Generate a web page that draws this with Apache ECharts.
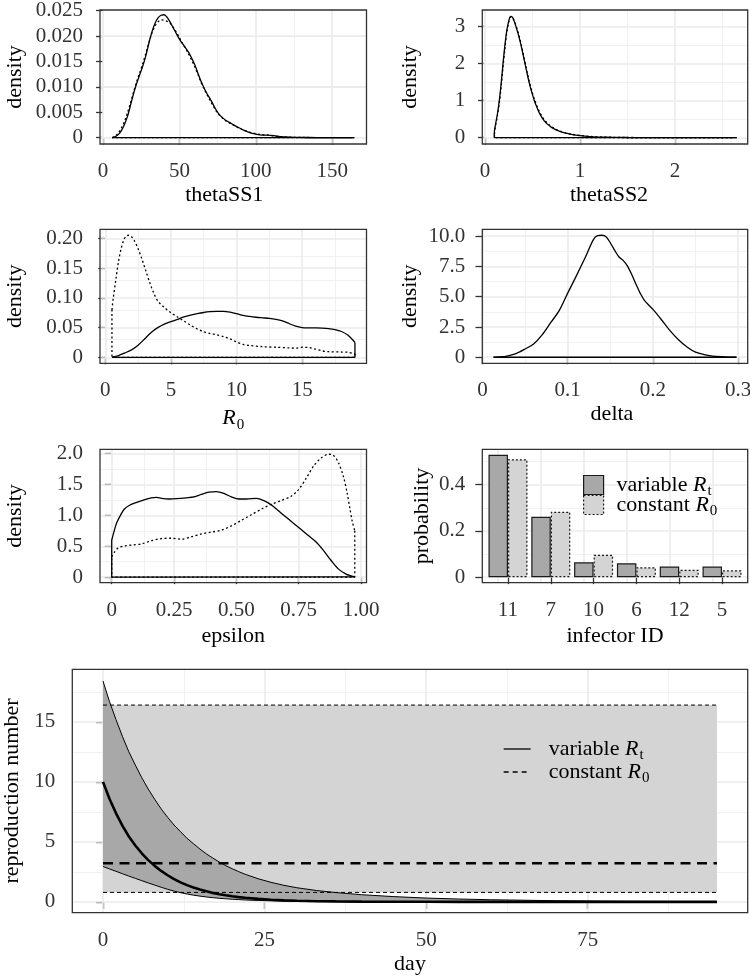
<!DOCTYPE html>
<html><head><meta charset="utf-8">
<script src="https://cdn.jsdelivr.net/npm/echarts@6/dist/echarts.min.js"></script>
<style>html,body{margin:0;padding:0;background:#fff}#c{width:750px;height:978px}</style>
</head><body><div id="c"></div>
<script>
// ---------------- DATA ----------------
// density curves: [x, density]; "Var" = variable Rt model (solid), "Const" = constant R0 model (dotted)
const theta1Var = [[5.9,0],[8,0.0002],[10,0.0006],[12,0.0014],[14,0.0026],[16,0.0042],[18,0.0064],[20,0.0087],[22,0.0107],[24,0.0124],[26,0.0141],[28,0.0161],[30,0.0186],[32,0.0208],[34,0.0225],[36,0.0236],[38,0.0241],[40,0.0242],[42,0.0237],[44,0.0227],[46,0.0216],[48,0.0205],[50,0.0194],[52,0.0185],[54,0.0177],[56,0.0168],[58,0.0157],[60,0.0144],[62,0.0128],[64,0.0112],[66,0.0099],[68,0.0087],[70,0.0077],[72,0.0066],[74,0.0055],[76,0.0046],[78,0.0040],[80,0.0035],[84,0.0028],[88,0.0021],[92,0.0015],[96,0.0010],[100,0.0007],[104,0.0005],[108,0.0005],[112,0.0004],[116,0.0002],[122,0.0001],[130,0.00006],[140,0.00003],[150,0.00002],[164.5,0]];
const theta1Const = [[6,0],[8,0.0003],[10,0.0009],[12,0.0019],[14,0.0032],[16,0.0049],[18,0.0069],[20,0.0090],[22,0.0110],[24,0.0128],[26,0.0146],[28,0.0166],[30,0.0187],[32,0.0206],[34,0.0220],[36,0.0228],[38,0.0232],[40,0.0231],[42,0.0229],[44,0.0225],[46,0.0217],[48,0.0208],[50,0.0197],[52,0.0186],[54,0.0176],[56,0.0165],[58,0.0153],[60,0.0140],[62,0.0126],[64,0.0110],[66,0.0097],[68,0.0085],[70,0.0074],[72,0.0063],[74,0.0053],[76,0.0045],[78,0.0039],[80,0.0034],[84,0.0027],[88,0.0020],[92,0.0015],[96,0.0011],[100,0.0008],[104,0.0006],[108,0.0005],[112,0.0003],[116,0.0002],[122,0.0001],[130,0.00005],[140,0.00002],[155,0.00001],[163,0]];
const theta2Var = [[0.098,0.15],[0.11,0.35],[0.13,0.62],[0.15,0.98],[0.17,1.45],[0.19,2.0],[0.21,2.5],[0.23,2.9],[0.25,3.15],[0.27,3.28],[0.29,3.25],[0.31,3.13],[0.33,2.97],[0.35,2.8],[0.37,2.6],[0.39,2.38],[0.41,2.14],[0.43,1.9],[0.45,1.66],[0.47,1.44],[0.49,1.25],[0.52,1.0],[0.55,0.8],[0.58,0.63],[0.62,0.47],[0.66,0.36],[0.70,0.28],[0.75,0.21],[0.80,0.16],[0.86,0.12],[0.92,0.085],[1.0,0.055],[1.1,0.03],[1.2,0.018],[1.35,0.01],[1.5,0.006],[1.8,0.003],[2.2,0.001],[2.65,0]];
const theta2Const = [[0.1,0.1],[0.11,0.3],[0.13,0.58],[0.15,0.92],[0.17,1.38],[0.19,1.9],[0.21,2.42],[0.23,2.85],[0.25,3.12],[0.27,3.26],[0.29,3.24],[0.31,3.15],[0.33,3.0],[0.35,2.84],[0.37,2.64],[0.39,2.42],[0.41,2.18],[0.43,1.94],[0.45,1.7],[0.47,1.48],[0.49,1.29],[0.52,1.04],[0.55,0.84],[0.58,0.67],[0.62,0.5],[0.66,0.39],[0.70,0.3],[0.75,0.22],[0.80,0.17],[0.86,0.12],[0.92,0.09],[1.0,0.06],[1.1,0.035],[1.2,0.02],[1.35,0.011],[1.5,0.006],[1.8,0.003],[2.2,0.001],[2.6,0]];
const r0Var = [[0.51,0.0005],[1.0,0.003],[1.5,0.0075],[2.0,0.0125],[2.5,0.0205],[3.0,0.031],[3.5,0.042],[4.0,0.050],[4.5,0.056],[5.0,0.060],[5.5,0.064],[6.0,0.068],[6.5,0.071],[7.0,0.0735],[7.5,0.0755],[8.0,0.0768],[8.5,0.0775],[9.0,0.0775],[9.5,0.0762],[10.0,0.0735],[10.5,0.0705],[11.0,0.0688],[11.5,0.0675],[12.0,0.0665],[12.5,0.0655],[13.0,0.0638],[13.5,0.0612],[14.0,0.057],[14.5,0.0525],[15.0,0.0502],[15.5,0.0497],[16.0,0.0495],[16.5,0.0492],[17.0,0.0485],[17.5,0.0468],[18.0,0.0435],[18.5,0.037],[19.02,0.025]];
const r0Const = [[0.51,0.08],[0.6,0.098],[0.8,0.13],[1.0,0.16],[1.2,0.182],[1.4,0.197],[1.6,0.204],[1.8,0.2055],[2.0,0.203],[2.2,0.197],[2.5,0.183],[2.8,0.165],[3.1,0.145],[3.4,0.125],[3.7,0.108],[4.0,0.095],[4.5,0.084],[5.0,0.075],[5.5,0.068],[6.0,0.061],[6.5,0.054],[7.0,0.048],[7.5,0.043],[8.0,0.040],[8.5,0.038],[9.0,0.035],[9.5,0.031],[10.0,0.026],[10.5,0.022],[11.0,0.020],[12.0,0.018],[13.0,0.017],[14.0,0.016],[14.5,0.0155],[15.0,0.017],[15.5,0.0165],[16.0,0.014],[16.5,0.011],[17.0,0.0095],[18.0,0.009],[18.5,0.0085],[19.02,0.006]];
const deltaVar = [[0.013,0],[0.02,0.02],[0.03,0.12],[0.04,0.32],[0.05,0.68],[0.06,1.1],[0.07,1.85],[0.08,2.85],[0.09,3.85],[0.10,5.3],[0.11,6.7],[0.12,8.15],[0.13,9.7],[0.135,10.05],[0.14,10.08],[0.145,9.95],[0.15,9.45],[0.155,8.85],[0.16,8.3],[0.165,8.0],[0.17,7.55],[0.175,6.85],[0.18,6.05],[0.185,5.3],[0.19,4.7],[0.20,3.95],[0.21,3.1],[0.22,2.2],[0.23,1.45],[0.24,0.85],[0.25,0.42],[0.26,0.22],[0.27,0.1],[0.28,0.04],[0.29,0.01],[0.298,0]];
const epsVar = [[0,0.6],[0.01,0.75],[0.02,0.88],[0.035,1.0],[0.05,1.1],[0.07,1.16],[0.1,1.21],[0.13,1.25],[0.16,1.285],[0.18,1.29],[0.2,1.275],[0.23,1.265],[0.26,1.27],[0.3,1.285],[0.33,1.3],[0.36,1.34],[0.39,1.375],[0.42,1.385],[0.45,1.355],[0.48,1.3],[0.51,1.265],[0.54,1.265],[0.58,1.275],[0.61,1.24],[0.64,1.17],[0.67,1.07],[0.7,0.97],[0.73,0.87],[0.76,0.77],[0.79,0.67],[0.82,0.57],[0.85,0.43],[0.88,0.27],[0.91,0.13],[0.94,0.05],[0.975,0.005]];
const epsConst = [[0,0.33],[0.01,0.4],[0.025,0.47],[0.05,0.505],[0.08,0.52],[0.12,0.54],[0.16,0.59],[0.2,0.625],[0.24,0.63],[0.28,0.615],[0.32,0.655],[0.36,0.7],[0.4,0.73],[0.44,0.76],[0.48,0.83],[0.52,0.92],[0.56,1.01],[0.6,1.1],[0.64,1.18],[0.68,1.24],[0.72,1.31],[0.75,1.42],[0.78,1.6],[0.81,1.8],[0.84,1.93],[0.87,1.99],[0.89,1.97],[0.91,1.85],[0.93,1.62],[0.945,1.35],[0.955,1.12],[0.965,0.9],[0.975,0.75]];

// infector probabilities
const infectorIds = ['11','7','10','6','12','5'];
const probVar   = [0.529,0.261,0.064,0.060,0.046,0.046];
const probConst = [0.510,0.283,0.097,0.043,0.032,0.030];

// reproduction number over time
const days     = [0,1,2,3,4,5,6,7,8,9,10,11,12,13,14,15,16,17,18,19,20,21,22,24,26,28,30,33,36,40,45,50,55,60,70,80,95];
const rtUpper  = [18.4,16.7,15.2,13.8,12.5,11.4,10.35,9.4,8.55,7.75,7.05,6.4,5.85,5.3,4.85,4.4,4.0,3.65,3.32,3.02,2.76,2.52,2.3,1.93,1.63,1.38,1.18,0.95,0.78,0.6,0.44,0.32,0.24,0.18,0.1,0.05,0.02];
const rtMedian = [10.0,8.6,7.4,6.35,5.45,4.7,4.05,3.48,3.0,2.58,2.22,1.9,1.63,1.4,1.2,1.03,0.88,0.75,0.64,0.55,0.47,0.4,0.34,0.25,0.18,0.13,0.09,0.06,0.04,0.025,0.014,0.008,0.005,0.003,0.001,0,0];
const rtLower  = [2.95,2.75,2.55,2.35,2.15,1.96,1.77,1.58,1.4,1.22,1.05,0.9,0.77,0.66,0.56,0.48,0.41,0.35,0.3,0.26,0.22,0.19,0.16,0.12,0.09,0.065,0.05,0.035,0.025,0.015,0.009,0.005,0.003,0.002,0.001,0,0];
const constDays   = [0,95];
const constUpper  = [16.4,16.4];
const constMedian = [3.22,3.22];
const constLower  = [0.79,0.79];

// tick values and labels
const t1xTicks=[0,50,100,150], t1xLabels=['0','50','100','150'];
const t1yTicks=[0,0.005,0.01,0.015,0.02,0.025], t1yLabels=['0','0.005','0.010','0.015','0.020','0.025'];
const t2xTicks=[0,1,2], t2xLabels=['0','1','2'];
const t2yTicks=[0,1,2,3], t2yLabels=['0','1','2','3'];
const r0xTicks=[0,5,10,15], r0xLabels=['0','5','10','15'];
const r0yTicks=[0,0.05,0.1,0.15,0.2], r0yLabels=['0','0.05','0.10','0.15','0.20'];
const dxTicks=[0,0.1,0.2,0.3], dxLabels=['0','0.1','0.2','0.3'];
const dyTicks=[0,2.5,5,7.5,10], dyLabels=['0','2.5','5.0','7.5','10.0'];
const exTicks=[0,0.25,0.5,0.75,1], exLabels=['0','0.25','0.50','0.75','1.00'];
const eyTicks=[0,0.5,1,1.5,2], eyLabels=['0','0.5','1.0','1.5','2.0'];
const pyTicks=[0,0.2,0.4], pyLabels=['0','0.2','0.4'];
const rxTicks=[0,25,50,75], rxLabels=['0','25','50','75'];
const ryTicks=[0,5,10,15], ryLabels=['0','5','10','15'];

// ---------------- BUILD ----------------
const FONT = 'Liberation Serif';
const TICKC = '#333333';
const BORDER = '#333333';
const RICH = {
  n:{fontSize:22,fontFamily:FONT,color:'#000'},
  i:{fontSize:22,fontFamily:FONT,fontStyle:'italic',color:'#000'},
  s:{fontSize:15,fontFamily:FONT,color:'#000',padding:[14,0,0,1]}
};
function lab(ticks, labels){
  return function(v){ for(let i=0;i<ticks.length;i++){ if(Math.abs(ticks[i]-v)<1e-9) return labels[i]; } return ''; };
}
function mids(t){ const m=[]; for(let i=0;i<t.length-1;i++) m.push((t[i]+t[i+1])/2); return m; }
function axis(isY, gi, min, max, ticks, labels, name, gap, shift){
  const nts = {fontSize:22, color:'#000', fontFamily:FONT, rich:RICH};
  if (shift) nts.padding = [0, 2*shift, 0, 0];
  const a = {
    type:'value', gridIndex:gi, min:min, max:max,
    axisLine:{show:false},
    axisTick:{show:true, customValues:ticks, length:7, lineStyle:{color:BORDER,width:1.3}},
    axisLabel:{show:true, customValues:ticks, formatter:lab(ticks,labels), margin:17, color:TICKC, fontSize:21, fontFamily:FONT},
    splitLine:{show:false}, minorTick:{show:false}, minorSplitLine:{show:false},
    name:name, nameLocation:'middle', nameGap:gap, nameTextStyle:nts
  };
  if (isY) a.nameRotate = 90;
  return a;
}
function gridLines(xMaj, xMin, yMaj, yMin){
  const maj = {color:'#ebebeb', width:1.6, type:'solid'};
  const mnr = {color:'#ededed', width:0.8, type:'solid'};
  const d = [];
  xMin.forEach(v=>d.push({xAxis:v, lineStyle:mnr}));
  yMin.forEach(v=>d.push({yAxis:v, lineStyle:mnr}));
  xMaj.forEach(v=>d.push({xAxis:v, lineStyle:maj}));
  yMaj.forEach(v=>d.push({yAxis:v, lineStyle:maj}));
  return {silent:true, symbol:['none','none'], label:{show:false}, z:1, animation:false, emphasis:{disabled:true}, data:d};
}
function closure(p){ const f=p[0], l=p[p.length-1]; return [[l[0],l[1]],[l[0],0],[f[0],0],[f[0],f[1]]]; }
function dens(gi, pts, dotted, ml){
  const ls = {color:'#000', width:1.3, type: dotted ? [2,2.5] : 'solid'};
  const base = {type:'line', xAxisIndex:gi, yAxisIndex:gi, symbol:'none', silent:true, animation:false, z: dotted?2:3, emphasis:{disabled:true}};
  const s1 = Object.assign({}, base, {data:pts, smooth:0.3, lineStyle:ls});
  if (ml) s1.markLine = ml;
  const s2 = Object.assign({}, base, {data:closure(pts), smooth:false, lineStyle:ls});
  return [s1, s2];
}
function ribbon(gi, xs, lo, hi, color, z){
  return {type:'custom', xAxisIndex:gi, yAxisIndex:gi, silent:true, animation:false, z:z, clip:true,
    data:[[xs[0], lo[0]]],
    renderItem:function(params, api){
      const pts = [];
      for (let i=0;i<xs.length;i++) pts.push(api.coord([xs[i], hi[i]]));
      for (let i=xs.length-1;i>=0;i--) pts.push(api.coord([xs[i], lo[i]]));
      return {type:'polygon', shape:{points:pts}, style:{fill:color, stroke:null}};
    }};
}
const gridBase = {show:true, borderColor:BORDER, borderWidth:1.3, backgroundColor:'transparent', z:4, containLabel:false, outerBoundsMode:'none'};
const grids = [
  Object.assign({left:100,  top:10,    width:266.5, height:134}, gridBase),
  Object.assign({left:482.3,top:10,    width:265.4, height:134}, gridBase),
  Object.assign({left:100,  top:229.3, width:266.5, height:134}, gridBase),
  Object.assign({left:482.3,top:229.3, width:265.4, height:134}, gridBase),
  Object.assign({left:100,  top:449.3, width:266.5, height:133.4}, gridBase),
  Object.assign({left:482.3,top:449.3, width:265.4, height:133.4}, gridBase),
  Object.assign({left:72.3, top:669.3, width:675.4, height:243.4}, gridBase)
];
const barPos = infectorIds.map((_,i)=>i+1);
const xAxes = [
  axis(false,0,-2,172.5,t1xTicks,t1xLabels,'thetaSS1',40,9),
  axis(false,1,-0.028,2.765,t2xTicks,t2xLabels,'thetaSS2',40,6),
  axis(false,2,-0.4,19.9,r0xTicks,r0xLabels,'{i|R}{s|0}',40),
  axis(false,3,-0.0002,0.3112,dxTicks,dxLabels,'delta',40,3),
  axis(false,4,-0.047,1.022,exTicks,exLabels,'epsilon',43),
  axis(false,5,0.4,6.6,barPos,infectorIds,'infector ID',43),
  axis(false,6,-4.75,99.75,rxTicks,rxLabels,'day',41)
];
const yAxes = [
  axis(true,0,-0.00124,0.02514,t1yTicks,t1yLabels,'density',74),
  axis(true,1,-0.17,3.45,t2yTicks,t2yLabels,'density',61),
  axis(true,2,-0.0100,0.2155,r0yTicks,r0yLabels,'density',74),
  axis(true,3,-0.5,10.57,dyTicks,dyLabels,'density',61),
  axis(true,4,-0.09,2.07,eyTicks,eyLabels,'density',74),
  axis(true,5,-0.024,0.553,pyTicks,pyLabels,'probability',49),
  axis(true,6,-0.9,19.38,ryTicks,ryLabels,'reproduction number',44)
];

let series = [];
series = series.concat(dens(0, theta1Var, false, gridLines(t1xTicks, mids(t1xTicks), t1yTicks, mids(t1yTicks).concat([0.0225]))));
series = series.concat(dens(0, theta1Const, true));
series = series.concat(dens(1, theta2Var, false, gridLines(t2xTicks, [0.5,1.5,2.5], t2yTicks, [0.5,1.5,2.5])));
series = series.concat(dens(1, theta2Const, true));
series = series.concat(dens(2, r0Var, false, gridLines(r0xTicks, [2.5,7.5,12.5,17.5], r0yTicks, mids(r0yTicks))));
series = series.concat(dens(2, r0Const, true));
series = series.concat(dens(3, deltaVar, false, gridLines(dxTicks, mids(dxTicks), dyTicks, mids(dyTicks))));
series = series.concat(dens(4, epsVar, false, gridLines(exTicks, mids(exTicks), eyTicks, mids(eyTicks))));
series = series.concat(dens(4, epsConst, true));

// bars
series.push({type:'bar', name:'bar_var', xAxisIndex:5, yAxisIndex:5, silent:true, animation:false,
  data: barPos.map((x,i)=>[x, probVar[i]]), barWidth:19.5, barGap:'0%', z:2,
  itemStyle:{color:'#a8a8a8', borderColor:'#1a1a1a', borderWidth:1.2, borderType:'solid'},
  markLine: gridLines(barPos, [], pyTicks, [0.1,0.3,0.5])});
series.push({type:'bar', name:'bar_const', xAxisIndex:5, yAxisIndex:5, silent:true, animation:false,
  data: barPos.map((x,i)=>[x, probConst[i]]), barWidth:19.5, barGap:'0%', z:2,
  itemStyle:{color:'#d4d4d4', borderColor:'#1a1a1a', borderWidth:1.2, borderType:[2,2]}});

// bottom panel
const B = {type:'line', xAxisIndex:6, yAxisIndex:6, symbol:'none', silent:true, animation:false, emphasis:{disabled:true}};
series.push(ribbon(6, constDays, constLower, constUpper, '#d4d4d4', 2));
series.push(ribbon(6, days, rtLower, rtUpper, '#a8a8a8', 3));
series.push(Object.assign({}, B, {name:'c_up', z:5, lineStyle:{color:'#000', width:1, type:[4,3]},
  data: constDays.map((d,i)=>[d, constUpper[i]]),
  markLine: gridLines(rxTicks, [12.5,37.5,62.5,87.5], ryTicks, [2.5,7.5,12.5,17.5])}));
series.push(Object.assign({}, B, {name:'c_lo', z:5, lineStyle:{color:'#000', width:1, type:[4,3]},
  data: constDays.map((d,i)=>[d, constLower[i]])}));
series.push(Object.assign({}, B, {name:'v_up', z:5, lineStyle:{color:'#000', width:1},
  data: days.map((d,i)=>[d, rtUpper[i]])}));
series.push(Object.assign({}, B, {name:'v_lo', z:5, lineStyle:{color:'#000', width:1},
  data: days.map((d,i)=>[d, rtLower[i]])}));
series.push(Object.assign({}, B, {name:'line_const', z:6, lineStyle:{color:'#000', width:2.6, type:[10,6.5]},
  data: constDays.map((d,i)=>[d, constMedian[i]])}));
series.push(Object.assign({}, B, {name:'line_var', z:6, lineStyle:{color:'#000', width:2.6},
  data: days.map((d,i)=>[d, rtMedian[i]])}));

const LEGRICH = {
  n:{fontSize:22,fontFamily:FONT,color:'#000',lineHeight:19},
  i:{fontSize:22,fontFamily:FONT,fontStyle:'italic',color:'#000',lineHeight:19},
  s:{fontSize:15,fontFamily:FONT,color:'#000',lineHeight:8,padding:[13,0,0,1]}
};
function legFmt(name){
  if (name==='bar_var'||name==='line_var') return '{n|variable }{i|R}{s|t}';
  return '{n|constant }{i|R}{s|0}';
}
function barLegend(name, top, style){
  return {orient:'vertical', left:583, top:top, padding:0, itemWidth:20, itemHeight:19, icon:'rect', selectedMode:false,
    formatter:legFmt, textStyle:{rich:LEGRICH, padding:[0,0,0,8]},
    data:[{name:name, itemStyle:style}]};
}
function lineLegend(name, top, ls){
  return {orient:'vertical', left:503, top:top, padding:0, itemWidth:27, itemHeight:14, selectedMode:false,
    formatter:legFmt, textStyle:{rich:LEGRICH, padding:[0,0,0,13]},
    data:[{name:name, itemStyle:{opacity:0}, lineStyle:ls}]};
}
const option = {
  backgroundColor:'#ffffff',
  animation:false,
  textStyle:{fontFamily:FONT},
  grid: grids, xAxis: xAxes, yAxis: yAxes, series: series,
  legend: [
    barLegend('bar_var', 471, {color:'#a8a8a8', borderColor:'#1a1a1a', borderWidth:1.2, borderType:'solid'}),
    barLegend('bar_const', 491, {color:'#d4d4d4', borderColor:'#1a1a1a', borderWidth:1.2, borderType:[2,2]}),
    lineLegend('line_var', 735, {color:'#000', width:1.3, type:'solid'}),
    lineLegend('line_const', 758, {color:'#000', width:1.3, type:[5,4]})
  ]
};
const chart = echarts.init(document.getElementById('c'), null, {renderer:'canvas'});
chart.setOption(option);
</script>
</body></html>
